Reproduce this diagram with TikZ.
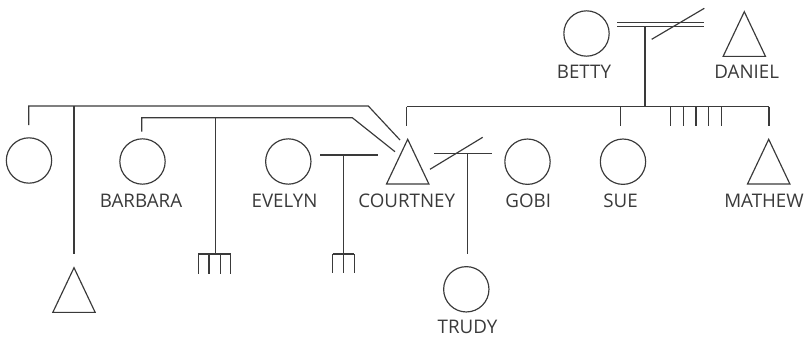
\documentclass[tikz,border=0pt]{standalone}
\usepackage{fontspec}
\setmainfont{Open Sans}
\usepackage{tikz}
\usetikzlibrary{shapes.geometric,positioning}
\usepackage{xcolor}
\definecolor{pedgray}{RGB}{58,58,58}
\tikzstyle{line} = [draw=pedgray, line width=1pt]
\tikzstyle{female} = [circle, draw=pedgray, line width=1pt, minimum size=1.36cm, inner sep=0pt, outer sep=0pt]
\tikzstyle{male} = [isosceles triangle, isosceles triangle stretches, shape border rotate=90, draw=pedgray, line width=1pt, minimum width=1.27cm, minimum height=1.34cm, inner sep=0pt, outer sep=0pt, anchor=apex]
\tikzstyle{pname} = [anchor=base, inner sep=0pt, text=pedgray, font=\fontsize{16}{18}\selectfont]

\begin{document}
\begin{tikzpicture}[x=0.03cm, y=-0.03cm]
\useasboundingbox (0,0) rectangle (812,339);

% Grandparents
\node[female] (betty) at (586.5,33.5) {};
\node[male] (daniel) at (744.3,11.7) {};
\node[pname] (bettyname) at (584,78.3) {BETTY};
\node[pname] (danielname) at (746.7,78.3) {DANIEL};

% Middle generation
\node[female] (aunt) at (29,160.5) {};
\node[female] (barbara) at (142.5,161.5) {};
\node[female] (evelyn) at (288.3,161.5) {};
\node[male] (courtney) at (407.7,139.3) {};
\node[female] (gobi) at (527.5,161.7) {};
\node[female] (sue) at (623,161.7) {};
\node[male] (mathew) at (768.7,139.3) {};
\node[pname] (barbaraname) at (141,207.3) {BARBARA};
\node[pname] (evelynname) at (284.5,207.3) {EVELYN};
\node[pname] (courtneyname) at (406.7,207.3) {COURTNEY};
\node[pname] (gobiname) at (528.3,207.3) {GOBI};
\node[pname] (suename) at (620.5,207.3) {SUE};
\node[pname] (mathewname) at (764,207.3) {MATHEW};

% Children
\node[male] (son) at (74,267.7) {};
\node[female] (trudy) at (466.3,289.3) {};
\node[pname] (trudyname) at (467.5,333.5) {TRUDY};

% Junctions
\coordinate (bdA1) at (617,22.5);  \coordinate (bdA2) at (704,22.5);
\coordinate (bdB1) at (617,26.5);  \coordinate (bdB2) at (704,26.5);
\coordinate (bdcut1) at (651.7,39.3); \coordinate (bdcut2) at (704.3,8.3);
\coordinate (bdmid) at (645,26.5); \coordinate (bdsib) at (645,106.7);
\coordinate (sibL) at (406.7,106.7); \coordinate (sibR) at (769,106.7);
\coordinate (aunttop) at (28.7,125); \coordinate (auntup) at (28.7,106);
\coordinate (auntbend) at (368.3,106); \coordinate (auntend) at (400,140);
\coordinate (sontop) at (74,106); \coordinate (sonbot) at (74,254);
\coordinate (barbtop) at (141.7,131.7); \coordinate (barbup) at (141.7,117.7);
\coordinate (barbbend) at (352.3,117.7); \coordinate (barbend) at (395,151.7);
\coordinate (barbkid) at (215.7,117.7); \coordinate (barbkidbot) at (215.7,254);
\coordinate (evL) at (320,155); \coordinate (evR) at (377.7,155);
\coordinate (evmid) at (343.3,155); \coordinate (evbot) at (343.3,254);
\coordinate (cgL) at (434,153.3); \coordinate (cgR) at (491.7,153.3);
\coordinate (cgcut1) at (430,169.3); \coordinate (cgcut2) at (482.7,137.3);
\coordinate (cgmid) at (467.3,153.3); \coordinate (cgbot) at (467.3,254);

% Betty and Daniel
\draw[line] (bdA1) -- (bdA2);
\draw[line] (bdB1) -- (bdB2);
\draw[line] (bdcut1) -- (bdcut2);
\draw[line] (bdmid) -- (bdsib);
\draw[line] (sibL) -- (sibR);
\foreach \x in {406.7,620.7,670.7,683.3,696,708.7,721.3,769}
  \draw[line] (\x,106.7) -- (\x,126);

% Courtney's partners
\draw[line] (aunttop) -- (auntup) -- (auntbend) -- (auntend);
\draw[line] (sontop) -- (sonbot);
\draw[line] (barbtop) -- (barbup) -- (barbbend) -- (barbend);
\draw[line] (barbkid) -- (barbkidbot);
\draw[line] (198.3,254) -- (230.7,254);
\foreach \x in {198.3,209,220.3,230.7}
  \draw[line] (\x,254) -- (\x,274);
\draw[line] (evL) -- (evR);
\draw[line] (evmid) -- (evbot);
\draw[line] (332.7,254) -- (354.3,254);
\foreach \x in {332.7,343.3,354.3}
  \draw[line] (\x,254) -- (\x,272.7);
\draw[line] (cgL) -- (cgR);
\draw[line] (cgcut1) -- (cgcut2);
\draw[line] (cgmid) -- (cgbot);

\end{tikzpicture}
\end{document}
